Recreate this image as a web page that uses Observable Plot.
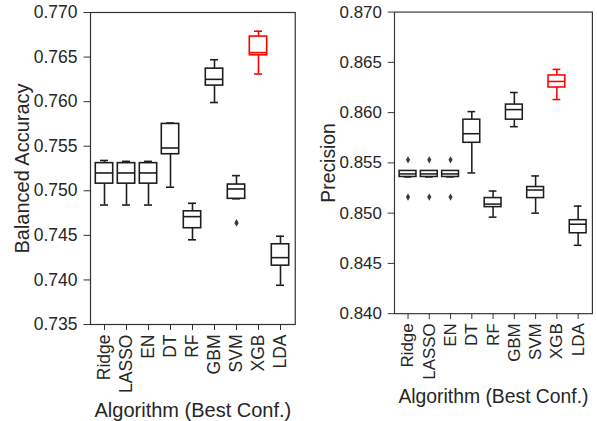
<!DOCTYPE html>
<html>
<head>
<meta charset="utf-8">
<script src="https://cdn.jsdelivr.net/npm/d3@7"></script>
<script src="https://cdn.jsdelivr.net/npm/@observablehq/plot@0.6"></script>
<style>
  html, body { margin: 0; padding: 0; background: #fff; }
  #wrap { position: relative; width: 597px; height: 421px; overflow: hidden; background: #fff; }
  #left, #right { position: absolute; top: 0; }
  #left { left: 0; }
  #right { left: 307px; }
</style>
</head>
<body>
<div id="wrap"><div id="left"></div><div id="right"></div></div>
<script>
const algorithms = ["Ridge", "LASSO", "EN", "DT", "RF", "GBM", "SVM", "XGB", "LDA"];
const highlight = "XGB";

// Balanced Accuracy box statistics
const baLow    = [0.7484, 0.7484, 0.7484, 0.7504, 0.7445, 0.7599, 0.7491, 0.7631, 0.7394];
const baQ1     = [0.7508, 0.7508, 0.7508, 0.7541, 0.7458, 0.7618, 0.7491, 0.7652, 0.7416];
const baMedian = [0.7520, 0.7520, 0.7520, 0.7548, 0.7471, 0.7625, 0.7502, 0.7655, 0.7425];
const baQ3     = [0.7531, 0.7531, 0.7531, 0.7575, 0.7477, 0.7637, 0.7507, 0.7673, 0.7440];
const baHigh   = [0.7534, 0.7533, 0.7533, 0.7576, 0.7486, 0.7647, 0.7517, 0.7679, 0.7449];
const baOutlierAlg = ["SVM"];
const baOutlierVal = [0.7464];
const baTicks = [0.735, 0.740, 0.745, 0.750, 0.755, 0.760, 0.765, 0.770];

// Precision box statistics
const prLow    = [0.8536, 0.8536, 0.8536, 0.8540, 0.8496, 0.8586, 0.8500, 0.8613, 0.8468];
const prQ1     = [0.8536, 0.8536, 0.8536, 0.8570, 0.8506, 0.8593, 0.8515, 0.8625, 0.8480];
const prMedian = [0.8539, 0.8539, 0.8539, 0.8579, 0.8509, 0.8603, 0.8523, 0.8631, 0.8489];
const prQ3     = [0.8542, 0.8542, 0.8542, 0.8593, 0.8515, 0.8608, 0.8526, 0.8637, 0.8493];
const prHigh   = [0.8542, 0.8542, 0.8542, 0.8601, 0.8522, 0.8620, 0.8537, 0.8643, 0.8507];
const prOutlierAlg = ["Ridge", "Ridge", "LASSO", "LASSO", "EN", "EN"];
const prOutlierVal = [0.8553, 0.8516, 0.8553, 0.8516, 0.8553, 0.8516];
const prTicks = [0.840, 0.845, 0.850, 0.855, 0.860, 0.865, 0.870];

const yLabels = ["Balanced Accuracy", "Precision"];
const xLabel = "Algorithm (Best Conf.)";

const boxColor = d => d.alg === highlight ? "#ff0000" : "#1e1e1e";

function makeRows(lo, q1, med, q3, hi) {
  return algorithms.map((alg, i) => ({alg, lo: lo[i], q1: q1[i], med: med[i], q3: q3[i], hi: hi[i]}));
}

function panel(rows, outAlg, outVal, ticks, yLabel) {
  const outliers = outAlg.map((a, i) => ({alg: a, v: outVal[i]}));
  const lw = 1.6;
  return Plot.plot({
    width: 300,
    height: 421,
    marginLeft: 90,
    marginRight: 5.25,
    marginTop: 12,
    marginBottom: 97,
    style: {fontFamily: "'Liberation Sans', Arial, Helvetica, sans-serif", color: "#262626", background: "white"},
    x: {type: "band", domain: algorithms, padding: 0},
    y: {domain: [ticks[0], ticks[ticks.length - 1]]},
    marks: [
      Plot.ruleX(rows, {x: "alg", y1: "lo", y2: "q1", stroke: boxColor, strokeWidth: lw}),
      Plot.ruleX(rows, {x: "alg", y1: "q3", y2: "hi", stroke: boxColor, strokeWidth: lw}),
      Plot.tickY(rows, {x: "alg", y: "lo", stroke: boxColor, strokeWidth: lw, insetLeft: 7, insetRight: 7}),
      Plot.tickY(rows, {x: "alg", y: "hi", stroke: boxColor, strokeWidth: lw, insetLeft: 7, insetRight: 7}),
      Plot.barY(rows, {x: "alg", y1: "q1", y2: "q3", fill: "white", stroke: boxColor, strokeWidth: lw, insetLeft: 2.3, insetRight: 2.3}),
      Plot.tickY(rows, {x: "alg", y: "med", stroke: boxColor, strokeWidth: lw, insetLeft: 2.3, insetRight: 2.3}),
      Plot.dot(outliers, {x: "alg", y: "v", symbol: "diamond", r: 2.3, fill: "#3a3a3a", stroke: "none"}),
      Plot.frame({stroke: "#333", strokeWidth: 1.2}),
      Plot.axisY({ticks: ticks, tickFormat: d3.format(".3f"), tickSize: 6.5, tickPadding: 6.5, fontSize: 17.5, label: null, stroke: "#333"}),
      Plot.axisX({tickRotate: -90, tickSize: 6, tickPadding: 4, fontSize: 17.5, label: null, stroke: "#333"}),
      Plot.text([yLabel], {frameAnchor: "left", dx: -68, rotate: -90, textAnchor: "middle", lineAnchor: "middle", fontSize: 20, fill: "#262626"}),
      Plot.text([xLabel], {frameAnchor: "bottom", dy: 86, textAnchor: "middle", lineAnchor: "middle", fontSize: 20, fill: "#262626"})
    ]
  });
}

document.getElementById("left").appendChild(
  panel(makeRows(baLow, baQ1, baMedian, baQ3, baHigh), baOutlierAlg, baOutlierVal, baTicks, yLabels[0]));
document.getElementById("right").appendChild(
  panel(makeRows(prLow, prQ1, prMedian, prQ3, prHigh), prOutlierAlg, prOutlierVal, prTicks, yLabels[1]));
</script>
</body>
</html>
